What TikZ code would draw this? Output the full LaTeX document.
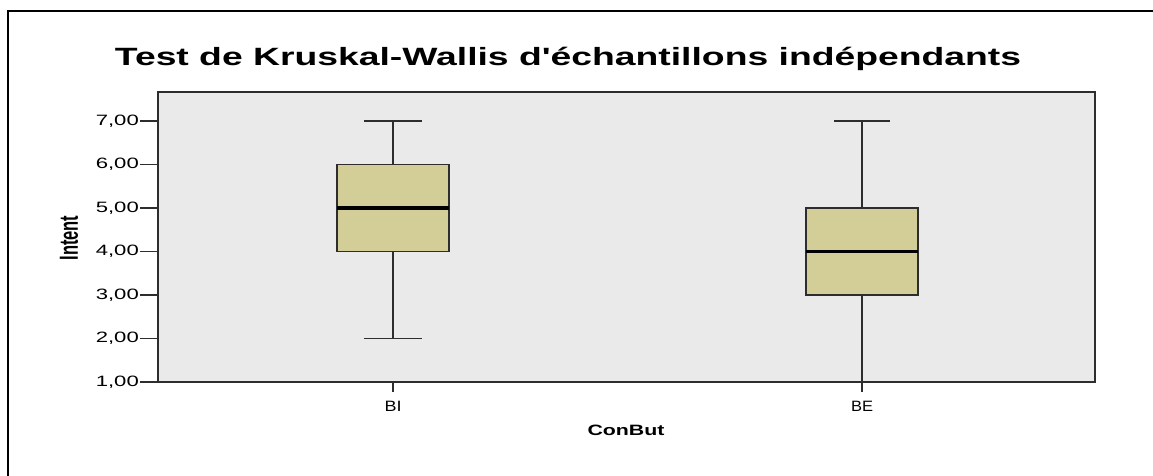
\documentclass[tikz,border=0pt]{standalone}
\usepackage{fontspec}
\setmainfont{Liberation Sans}[Ligatures=TeXOff]
\usepackage{graphicx}
\definecolor{plotbg}{RGB}{234,234,234}
\definecolor{boxfill}{RGB}{211,206,151}
\definecolor{axisgray}{RGB}{45,45,45}
\tikzset{
  frameline/.style={line width=2pt,black},
  axisline/.style={line width=1.3pt,axisgray},
  whisker/.style={line width=1.3pt,axisgray},
  boxstyle/.style={fill=boxfill,draw=axisgray,line width=1.3pt},
  medianline/.style={line width=3.2pt,black},
  ticklabel/.style={anchor=east,inner sep=0pt},
  catlabel/.style={inner sep=0pt},
}
\newcommand{\tlab}[1]{\resizebox{43pt}{\height}{\fontsize{15}{17}\selectfont #1}}
\begin{document}
\begin{tikzpicture}[x=1pt,y=-1pt]
\useasboundingbox (0,0) rectangle (1153,476);
% outer frame (top and left)
\draw[frameline] (8,476) -- (8,11) -- (1153,11);
% title
\node[inner sep=0pt] (title) at (568,59) {\resizebox{906pt}{\height}{\fontsize{25}{30}\selectfont\bfseries Test de Kruskal-Wallis d'échantillons indépendants}};
% plot area
\fill[plotbg] (158,92) rectangle (1095,382);
\draw[axisline] (158,92) rectangle (1095,382);
\draw[line width=2pt,axisgray] (1095,92) -- (1095,382);
% y ticks and labels
\foreach \v in {1,2,3,4,5,6,7}{
  \pgfmathsetmacro{\yy}{382-(\v-1)*43.5}
  \draw[axisline] (140,\yy) -- (158,\yy);
  \node[ticklabel] (y\v) at (139,\yy) {\tlab{\v,00}};
}
% y axis title
\node[inner sep=0pt,rotate=90] (ytitle) at (69,238) {\resizebox{45pt}{18pt}{\fontsize{16}{18}\selectfont\bfseries Intent}};
% x ticks
\draw[axisline] (393,382) -- (393,392);
\draw[axisline] (862,382) -- (862,392);
\node[catlabel] (bi) at (393,406) {\resizebox{17pt}{\height}{\fontsize{15}{17}\selectfont BI}};
\node[catlabel] (be) at (862,406) {\resizebox{22pt}{\height}{\fontsize{15}{17}\selectfont BE}};
\node[catlabel] (xtitle) at (626,430) {\resizebox{77pt}{\height}{\fontsize{15}{17}\selectfont\bfseries ConBut}};
% BI boxplot
\draw[whisker] (393,338.5) -- (393,251.5);
\draw[whisker] (393,164.5) -- (393,121);
\draw[whisker] (364,121) -- (422,121);
\draw[whisker] (364,338.5) -- (422,338.5);
\draw[boxstyle] (337,164.5) rectangle (449,251.5);
\draw[medianline] (337,208) -- (449,208);
% BE boxplot
\draw[whisker] (862,382) -- (862,295);
\draw[whisker] (862,208) -- (862,121);
\draw[whisker] (834,121) -- (890,121);
\draw[boxstyle] (806,208) rectangle (918,295);
\draw[medianline] (806,251.5) -- (918,251.5);
\end{tikzpicture}
\end{document}
